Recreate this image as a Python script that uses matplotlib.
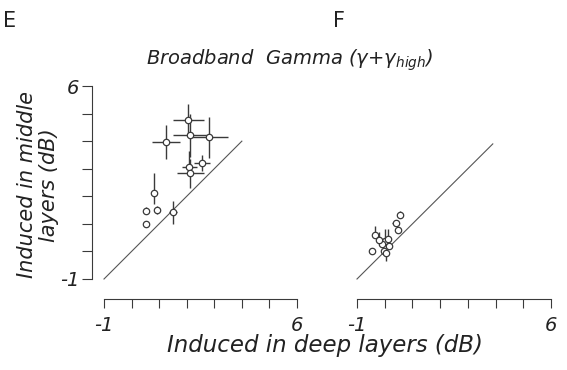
import matplotlib
matplotlib.use("Agg")
import matplotlib.pyplot as plt
import numpy as np

# Panel E data (deep vs middle layers)
e_x = [2.05, 2.12, 2.80, 1.25, 2.55, 2.10, 2.13, 0.81, 0.53, 0.92, 1.49, 0.51]
e_y = [4.76, 4.24, 4.14, 3.97, 3.21, 3.06, 2.83, 2.11, 1.48, 1.51, 1.42, 0.99]
e_xerr = [0.56, 0.60, 0.68, 0.51, 0.30, 0.27, 0.50, 0.05, 0.05, 0.10, 0.14, 0.05]
e_yerr_lo = [0.57, 0.80, 0.75, 0.63, 0.30, 0.30, 0.54, 0.40, 0.12, 0.15, 0.42, 0.12]
e_yerr_hi = [0.57, 0.75, 0.75, 0.63, 0.30, 0.60, 0.54, 0.72, 0.12, 0.15, 0.42, 0.12]

# Panel F data
f_x = [0.56, 0.39, 0.48, -0.34, 0.02, 0.12, -0.10, -0.22, -0.46, -0.04, 0.05, 0.15]
f_y = [1.31, 1.03, 0.79, 0.58, 0.37, 0.45, 0.27, 0.40, 0.03, 0.00, -0.06, 0.20]
f_xerr = [0.10, 0.12, 0.08, 0.10, 0.08, 0.10, 0.10, 0.08, 0.05, 0.10, 0.08, 0.10]
f_yerr_lo = [0.10, 0.10, 0.08, 0.05, 0.10, 0.10, 0.08, 0.10, 0.05, 0.10, 0.30, 0.10]
f_yerr_hi = [0.15, 0.12, 0.08, 0.33, 0.45, 0.35, 0.10, 0.30, 0.05, 0.10, 0.10, 0.20]

axis_min, axis_max = -1, 6
e_line = [-1, 4.0]
f_line = [-1, 3.9]
tick_vals = list(range(-1, 7))
tick_labels = ['-1', '', '', '', '', '', '', '6']

plt.rcParams['font.family'] = ['DejaVu Sans']
plt.rcParams['mathtext.fontset'] = 'dejavusans'

W, H = 567, 370
fig = plt.figure(figsize=(W / 100, H / 100), dpi=100)

def fx(px):
    return px / W

def fy(py):
    return 1 - py / H

axE = fig.add_axes([fx(104), fy(279), fx(297) - fx(104), fy(86) - fy(279)])
axF = fig.add_axes([fx(357), fy(279), fx(551) - fx(357), fy(86) - fy(279)])

ink = '#3a3a3a'
txt = '#222222'

def draw(ax, x, y, xerr, ylo, yhi, line):
    ax.plot(line, line, color='#555555', lw=0.8, clip_on=False, zorder=1)
    ax.errorbar(x, y, xerr=xerr, yerr=[ylo, yhi], fmt='o', ms=4.6,
                mfc='white', mec=ink, mew=0.9, ecolor=ink, elinewidth=1.0,
                capsize=0, clip_on=False, zorder=3)
    ax.set_xlim(axis_min, axis_max)
    ax.set_ylim(axis_min, axis_max)
    for s in ['top', 'right']:
        ax.spines[s].set_visible(False)
    ax.spines['bottom'].set_position(('outward', 14.4))
    ax.spines['bottom'].set_color(ink)
    ax.spines['bottom'].set_linewidth(0.8)
    ax.set_xticks(tick_vals)
    ax.set_xticklabels(tick_labels, fontsize=14, style='italic', color=txt)
    ax.tick_params(axis='x', direction='out', length=6.5, width=0.8,
                   color=ink, pad=5.5)
    ax.patch.set_visible(False)

draw(axE, e_x, e_y, e_xerr, e_yerr_lo, e_yerr_hi, e_line)
draw(axF, f_x, f_y, f_xerr, f_yerr_lo, f_yerr_hi, f_line)

axE.spines['left'].set_position(('outward', 8.3))
axE.spines['left'].set_color(ink)
axE.spines['left'].set_linewidth(0.8)
axE.set_yticks(tick_vals)
axE.set_yticklabels(tick_labels, fontsize=14, style='italic', color=txt)
axE.tick_params(axis='y', direction='out', length=7.5, width=0.8, color=ink, pad=2)

axF.spines['left'].set_visible(False)
axF.set_yticks([])

fig.text(fx(3), fy(21), 'E', fontsize=15, ha='left', va='center', color=txt)
fig.text(fx(333), fy(21), 'F', fontsize=15, ha='left', va='center', color=txt)
fig.text(fx(290), fy(60), r'Broadband  Gamma (γ+γ$_{high}$)', fontsize=14,
         style='italic', ha='center', va='center', color=txt)
fig.text(fx(325), fy(352), 'Induced in deep layers (dB)', fontsize=16.5,
         style='italic', ha='center', va='baseline', color=txt)
fig.text(fx(38), fy(185), 'Induced in middle\nlayers (dB)', fontsize=15,
         style='italic', ha='center', va='center', rotation=90,
         multialignment='center', linespacing=1.1, color=txt)

fig.savefig('out.png', dpi=100)
